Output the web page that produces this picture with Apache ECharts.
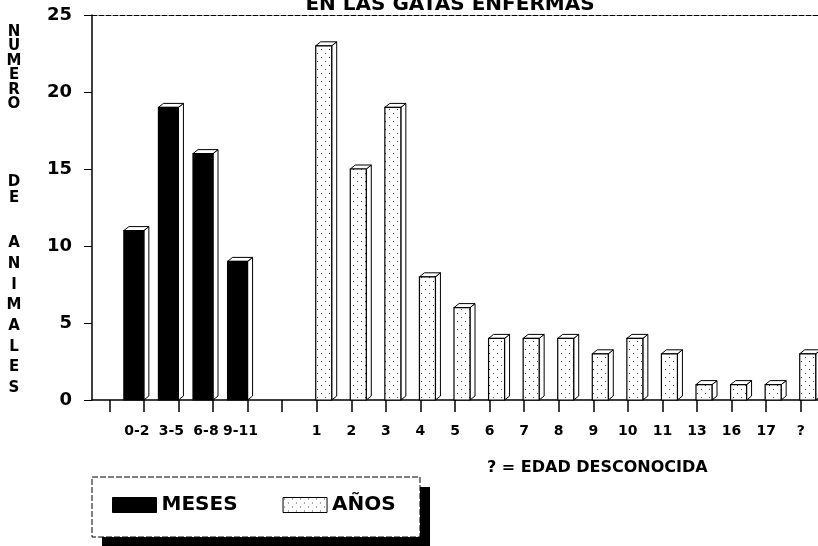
<!DOCTYPE html>
<html>
<head>
<meta charset="utf-8">
<script src="https://cdn.jsdelivr.net/npm/echarts@6/dist/echarts.min.js"></script>
<style>
  html, body { margin: 0; padding: 0; background: #fff; }
  #chart { width: 818px; height: 546px; }
</style>
</head>
<body>
<div id="chart"></div>
<script>
// categorias del eje x (huecos vacios incluidos)
var categories = ['', '0-2', '3-5', '6-8', '9-11', '', '1', '2', '3', '4', '5', '6', '7', '8', '9', '10', '11', '13', '16', '17', '?'];
var mesesLabels = ['0-2', '3-5', '6-8', '9-11'];
var mesesCounts = [11, 19, 16, 9];
var anosLabels = ['1', '2', '3', '4', '5', '6', '7', '8', '9', '10', '11', '13', '16', '17', '?'];
var anosCounts = [23, 15, 19, 8, 6, 4, 4, 4, 3, 4, 3, 1, 1, 1, 3];
var yTicks = [0, 5, 10, 15, 20, 25];

var FONT = 'DejaVu Sans';

// trama punteada para los años
var dots = document.createElement('canvas');
dots.width = 8; dots.height = 8;
var g = dots.getContext('2d');
g.fillStyle = '#fff'; g.fillRect(0, 0, 8, 8);
g.fillStyle = '#444';
g.fillRect(1, 1, 1, 1);
g.fillRect(5, 5, 1, 1);
var dotFill = { image: dots, repeat: 'repeat' };

function toData(labels, counts) {
  return labels.map(function (l, i) { return [categories.indexOf(l, 1), counts[i]]; });
}

// barra con efecto 3d
function bar3d(shift, width, fill) {
  return function (params, api) {
    var base = api.coord([api.value(0), 0]);
    var top = api.coord([api.value(0), api.value(1)]);
    var x = base[0] + shift, w = width, d = 5, dy = 4;
    var y0 = base[1], y1 = top[1];
    return {
      type: 'group',
      children: [
        { type: 'polygon', shape: { points: [[x + w, y1], [x + w + d, y1 - dy], [x + w + d, y0 - dy], [x + w, y0]] },
          style: { fill: '#fff', stroke: '#000', lineWidth: 1 } },
        { type: 'polygon', shape: { points: [[x, y1], [x + d, y1 - dy], [x + w + d, y1 - dy], [x + w, y1]] },
          style: { fill: '#fff', stroke: '#000', lineWidth: 1 } },
        { type: 'rect', shape: { x: x, y: y1, width: w, height: y0 - y1 },
          style: { fill: fill, stroke: '#000', lineWidth: 1.2 } }
      ]
    };
  };
}

var chart = echarts.init(document.getElementById('chart'), null, { renderer: 'canvas' });

chart.setOption({
  animation: false,
  backgroundColor: '#fff',
  grid: { left: 92, right: 0, top: 15, bottom: 146 },
  xAxis: [{
    type: 'category',
    data: categories,
    axisLine: { lineStyle: { color: '#000', width: 1.5 } },
    axisTick: { show: true, interval: 0, alignWithLabel: true, length: 12, lineStyle: { color: '#000', width: 1.5 } },
    axisLabel: {
      interval: 0, margin: 24, color: '#000', fontFamily: FONT, fontWeight: 'bold', fontSize: 14,
      formatter: function (v) { return mesesLabels.indexOf(v) >= 0 ? '{m|' + v + '}' : v; },
      rich: { m: { padding: [0, 14, 0, 0], fontFamily: FONT, fontWeight: 'bold', fontSize: 14, color: '#000' } }
    }
  }, {
    type: 'category',
    data: categories,
    position: 'top',
    axisLine: { lineStyle: { color: '#000', width: 1, type: [5, 2] } },
    axisTick: { show: false },
    axisLabel: { show: false }
  }],
  yAxis: {
    type: 'value',
    min: yTicks[0], max: yTicks[yTicks.length - 1], interval: 5,
    axisLine: { show: true, lineStyle: { color: '#000', width: 1.5 } },
    axisTick: { show: true, length: 8, lineStyle: { color: '#000' } },
    splitLine: { show: false },
    axisLabel: { margin: 20, color: '#000', fontFamily: FONT, fontWeight: 'bold', fontSize: 18 }
  },
  legend: {
    left: 92, top: 477,
    orient: 'horizontal',
    padding: [18, 18, 18, 20],
    itemGap: 45,
    itemWidth: 44, itemHeight: 15,
    icon: 'rect',
    itemStyle: { borderColor: '#000', borderWidth: 1 },
    textStyle: { color: '#000', fontFamily: FONT, fontWeight: 'bold', fontSize: 20 },
    data: ['MESES', 'AÑOS']
  },
  graphic: [
    // caja de la leyenda con sombra
    { type: 'rect', z: -1, shape: { x: 102, y: 487, width: 328, height: 60 }, style: { fill: '#000' } },
    { type: 'rect', z: -1, shape: { x: 92, y: 477, width: 328, height: 60 },
      style: { fill: '#fff', stroke: '#000', lineWidth: 1, lineDash: [6, 2] } },
    { type: 'text', x: 450, y: 5,
      style: { text: 'EN LAS GATAS ENFERMAS', align: 'center', verticalAlign: 'middle',
        font: 'bold 20px "DejaVu Sans"', fill: '#000' } },
    { type: 'text', x: 14, y: 25,
      style: { text: 'N\nU\nM\nE\nR\nO', align: 'center', lineHeight: 14.4, font: 'bold 15px "DejaVu Sans"', fill: '#000' } },
    { type: 'text', x: 14, y: 174,
      style: { text: 'D\nE', align: 'center', lineHeight: 16, font: 'bold 15px "DejaVu Sans"', fill: '#000' } },
    { type: 'text', x: 14, y: 233,
      style: { text: 'A\nN\nI\nM\nA\nL\nE\nS', align: 'center', lineHeight: 20.7, font: 'bold 15px "DejaVu Sans"', fill: '#000' } },
    { type: 'text', x: 487, y: 468,
      style: { text: '? = EDAD DESCONOCIDA', verticalAlign: 'middle', font: 'bold 16px "DejaVu Sans"', fill: '#000' } }
  ],
  series: [{
    name: 'MESES',
    type: 'custom',
    itemStyle: { color: '#000', borderColor: '#000' },
    renderItem: bar3d(-20, 20, '#000'),
    encode: { x: 0, y: 1 },
    data: toData(mesesLabels, mesesCounts)
  }, {
    name: 'AÑOS',
    type: 'custom',
    itemStyle: { color: dotFill, borderColor: '#000' },
    renderItem: bar3d(-1, 16, dotFill),
    encode: { x: 0, y: 1 },
    data: toData(anosLabels, anosCounts)
  }]
});
</script>
</body>
</html>
